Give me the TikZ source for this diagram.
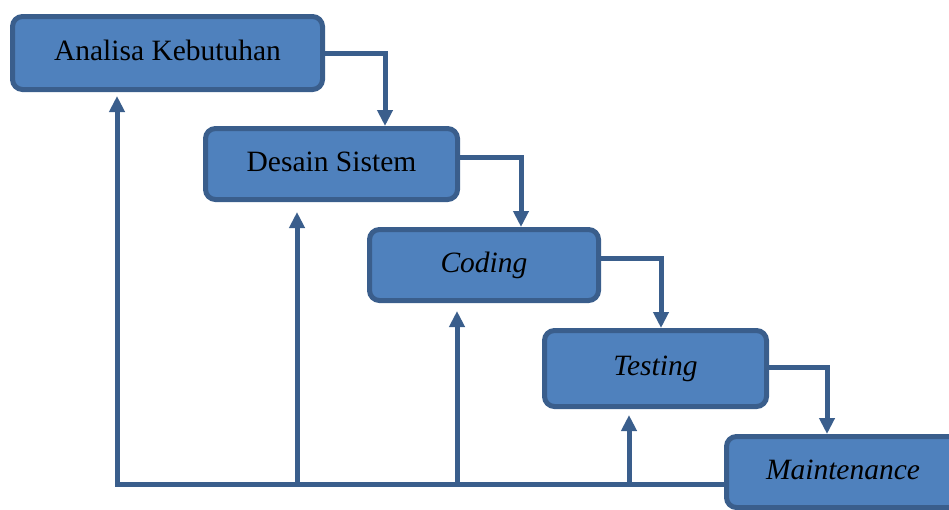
\documentclass[tikz,border=0pt]{standalone}
\usepackage{fontspec}
\setmainfont{Liberation Serif}
\usepackage{xcolor}
\usetikzlibrary{arrows.meta}

\definecolor{wffill}{RGB}{79,129,189}
\definecolor{wfline}{RGB}{58,94,140}

\begin{document}
\begin{tikzpicture}
		[x=1pt,y=-1pt,
		stage/.style={rectangle,rounded corners=10pt,draw=wfline,fill=wffill,line width=5pt,inner sep=0pt,text height=20pt,text depth=6pt,font=\fontsize{29.5}{35}\selectfont},
		flow/.style={draw=wfline,line width=5pt,-{Triangle[width=15pt,length=16pt]}},
		link/.style={draw=wfline,line width=5pt}]
		\useasboundingbox (0,0) rectangle (949,509);
		\clip (0,0) rectangle (949,509);

		\node [stage,minimum width=310pt,minimum height=73pt] (b1) at (167.5,53) {Analisa Kebutuhan};
		\node [stage,minimum width=252pt,minimum height=71pt] (b2) at (331.5,164) {Desain Sistem};
		\node [stage,minimum width=229pt,minimum height=71pt] (b3) at (484,265) {\itshape Coding};
		\node [stage,minimum width=222pt,minimum height=76pt] (b4) at (655.5,368.5) {\itshape Testing};
		\node [stage,minimum width=233pt,minimum height=71pt] (b5) at (843,472) {\itshape Maintenance};

		% arus turun
		\draw [flow] (b1.east) -| ([xshift=60pt]b1.east |- b2.north);
		\draw [flow] ([yshift=7pt]b2.east) -| ([xshift=61pt]b2.east |- b3.north);
		\draw [flow] ([yshift=7pt]b3.east) -| ([xshift=60pt]b3.east |- b4.north);
		\draw [flow] ([yshift=1.5pt]b4.east) -| ([xshift=58pt]b4.east |- b5.north);

		% umpan balik
		\coordinate (f1) at (117,484);
		\coordinate (f2) at (297,484);
		\coordinate (f3) at (457,484);
		\coordinate (f4) at (629,484);
		\draw [flow,shorten >=4pt] (b5.west |- f1) -- (f1) -- (f1 |- b1.south);
		\draw [flow,shorten >=10pt] (f2) -- (f2 |- b2.south);
		\draw [flow,shorten >=8pt] (f3) -- (f3 |- b3.south);
		\draw [flow,shorten >=6pt] (f4) -- (f4 |- b4.south);

	\end{tikzpicture}
\end{document}
